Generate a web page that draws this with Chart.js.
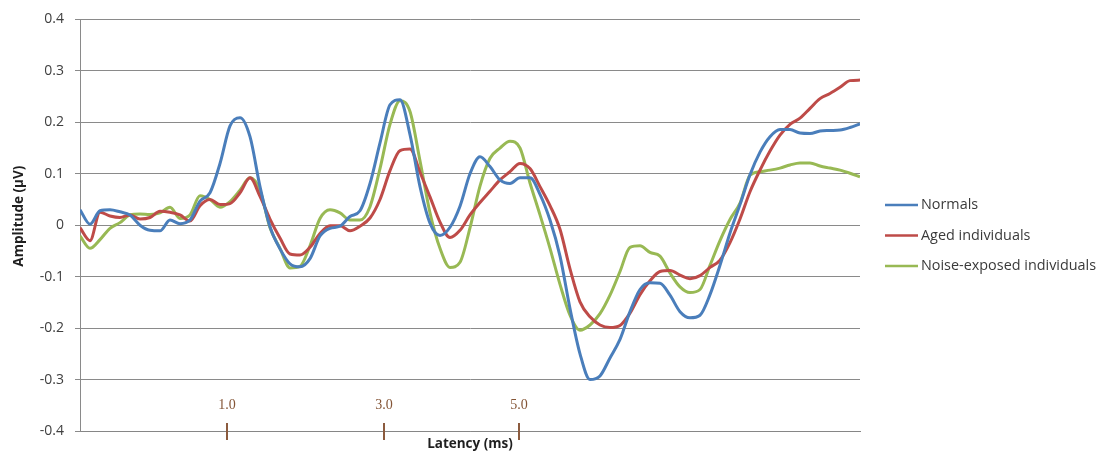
<!DOCTYPE html>
<html>
<head>
<meta charset="utf-8">
<script src="https://cdn.jsdelivr.net/npm/chart.js@4.4.1/dist/chart.umd.min.js"></script>
<style>
  html, body { margin: 0; padding: 0; background: #ffffff; }
  #wrap { width: 1109px; height: 457px; position: relative; }
</style>
</head>
<body>
<div id="wrap"><canvas id="chart" width="1109" height="457"></canvas></div>
<script>
// Averaged evoked responses, one value per sample along the latency axis
const seriesNames = ['Normals', 'Aged individuals', 'Noise-exposed individuals'];
const seriesColors = ['#4a7ebb', '#be4b48', '#98b954'];

const normals = [
  0.030, 0.002, 0.028, 0.030, 0.026, 0.020, 0.000, -0.010, -0.011, 0.010,
  0.003, 0.010, 0.047, 0.063, 0.120, 0.193, 0.209, 0.172, 0.075, -0.003,
  -0.046, -0.075, -0.081, -0.065, -0.021, -0.006, -0.002, 0.017, 0.028, 0.081,
  0.160, 0.234, 0.244, 0.176, 0.075, 0.004, -0.020, -0.004, 0.037, 0.100,
  0.133, 0.114, 0.088, 0.081, 0.092, 0.092, 0.060, 0.010, -0.060, -0.162,
  -0.250, -0.300, -0.293, -0.258, -0.222, -0.168, -0.125, -0.112, -0.113, -0.136,
  -0.168, -0.180, -0.175, -0.135, -0.078, -0.015, 0.040, 0.098, 0.142, 0.172,
  0.186, 0.186, 0.179, 0.178, 0.183, 0.184, 0.185, 0.190, 0.197
];

const aged = [
  -0.005, -0.030, 0.025, 0.018, 0.015, 0.020, 0.012, 0.015, 0.027, 0.025,
  0.020, 0.008, 0.038, 0.050, 0.040, 0.042, 0.063, 0.092, 0.056, 0.012,
  -0.025, -0.056, -0.058, -0.043, -0.016, -0.001, -0.001, -0.011, -0.002, 0.014,
  0.050, 0.106, 0.145, 0.148, 0.103, 0.055, 0.006, -0.024, -0.010, 0.020,
  0.044, 0.066, 0.088, 0.104, 0.120, 0.110, 0.075, 0.038, -0.008, -0.085,
  -0.149, -0.178, -0.194, -0.199, -0.195, -0.171, -0.135, -0.108, -0.090, -0.088,
  -0.097, -0.104, -0.098, -0.082, -0.068, -0.034, 0.012, 0.065, 0.107, 0.144,
  0.175, 0.196, 0.208, 0.227, 0.246, 0.256, 0.268, 0.281, 0.282
];

const noiseExposed = [
  -0.021, -0.045, -0.028, -0.006, 0.005, 0.020, 0.022, 0.021, 0.024, 0.035,
  0.013, 0.020, 0.057, 0.050, 0.035, 0.046, 0.068, 0.092, 0.068, -0.005,
  -0.045, -0.083, -0.080, -0.040, 0.013, 0.030, 0.024, 0.010, 0.010, 0.036,
  0.110, 0.196, 0.242, 0.221, 0.125, 0.024, -0.045, -0.082, -0.072, -0.005,
  0.076, 0.130, 0.150, 0.163, 0.150, 0.082, 0.020, -0.045, -0.115, -0.175,
  -0.204, -0.194, -0.172, -0.136, -0.090, -0.043, -0.040, -0.053, -0.060, -0.093,
  -0.120, -0.131, -0.125, -0.078, -0.030, 0.011, 0.043, 0.097, 0.104, 0.107,
  0.111, 0.117, 0.121, 0.121, 0.115, 0.111, 0.107, 0.101, 0.094
];

// Latency markers placed along the sample axis
const latencyMarkPositions = [14.67, 30.43, 43.9];
const latencyMarkLabels = ['1.0', '3.0', '5.0'];

const yMin = -0.4, yMax = 0.4, yStep = 0.1;

const sampleIndex = normals.map((_, i) => i);
const toPoints = arr => arr.map((v, i) => ({ x: sampleIndex[i], y: v }));

const allSeries = [normals, aged, noiseExposed];

const overlay = {
  id: 'overlay',
  afterDraw(chart) {
    const ctx = chart.ctx;
    const area = chart.chartArea;
    const xs = chart.scales.x;

    // Axis titles
    ctx.save();
    ctx.fillStyle = '#1f1f1f';
    ctx.font = 'bold 13.5px "Open Sans", "Liberation Sans", sans-serif';
    ctx.textAlign = 'center';
    ctx.textBaseline = 'middle';
    ctx.translate(19, (area.top + area.bottom) / 2 - 9);
    ctx.rotate(-Math.PI / 2);
    ctx.fillText('Amplitude (\u00b5V)', 0, 0);
    ctx.restore();

    ctx.save();
    ctx.fillStyle = '#1f1f1f';
    ctx.font = 'bold 13.5px "Open Sans", "Liberation Sans", sans-serif';
    ctx.textAlign = 'center';
    ctx.textBaseline = 'middle';
    ctx.fillText('Latency (ms)', 470, area.bottom + 13);
    ctx.restore();

    // Brown latency markers
    ctx.save();
    ctx.strokeStyle = '#8c5b3e';
    ctx.fillStyle = '#845536';
    ctx.lineWidth = 2;
    ctx.font = '14px "Liberation Serif", "DejaVu Serif", serif';
    ctx.textAlign = 'center';
    ctx.textBaseline = 'middle';
    latencyMarkPositions.forEach((p, i) => {
      const px = Math.round(xs.getPixelForValue(p));
      ctx.beginPath();
      ctx.moveTo(px, area.bottom - 8);
      ctx.lineTo(px, area.bottom + 9);
      ctx.stroke();
      ctx.fillText(latencyMarkLabels[i], px, area.bottom - 26);
    });
    ctx.restore();

    // Legend
    ctx.save();
    ctx.font = '14.4px "Open Sans", "Liberation Sans", sans-serif';
    ctx.textAlign = 'left';
    ctx.textBaseline = 'middle';
    const ly0 = 205, lstep = 30.5;
    seriesNames.forEach((name, i) => {
      const y = ly0 + i * lstep;
      ctx.strokeStyle = seriesColors[i];
      ctx.lineWidth = 2.5;
      ctx.beginPath();
      ctx.moveTo(885, y);
      ctx.lineTo(918, y);
      ctx.stroke();
      ctx.fillStyle = '#3a3a3a';
      ctx.fillText(name, 921, y);
    });
    ctx.restore();
  }
};

new Chart(document.getElementById('chart'), {
  type: 'line',
  data: {
    datasets: seriesNames.map((name, i) => ({
      label: name,
      data: toPoints(allSeries[i]),
      borderColor: seriesColors[i],
      backgroundColor: seriesColors[i],
      borderWidth: 3,
      pointRadius: 0,
      cubicInterpolationMode: 'monotone',
      fill: false
    }))
  },
  options: {
    responsive: false,
    devicePixelRatio: 1,
    animation: false,
    layout: { padding: { left: 0, top: 14, right: 249, bottom: 0 } },
    plugins: { legend: { display: false }, tooltip: { enabled: false } },
    scales: {
      x: {
        type: 'linear',
        min: 0,
        max: sampleIndex[sampleIndex.length - 1],
        ticks: { display: false },
        grid: { display: false },
        border: { display: true, color: '#868686', width: 1 },
        afterFit(s) { s.height = 26; }
      },
      y: {
        min: yMin,
        max: yMax,
        ticks: {
          stepSize: yStep,
          padding: 11,
          color: '#404040',
          font: { size: 14, family: '"Open Sans", "Liberation Sans", sans-serif' },
          callback: v => {
            const r = Math.round(v * 10) / 10;
            return r === 0 ? '0' : String(r);
          }
        },
        grid: { color: '#8a8a8a', lineWidth: 1, tickLength: 5 },
        border: { display: true, color: '#8a8a8a', width: 1 },
        afterFit(s) { s.width = 80; }
      }
    }
  },
  plugins: [overlay]
});
</script>
</body>
</html>
